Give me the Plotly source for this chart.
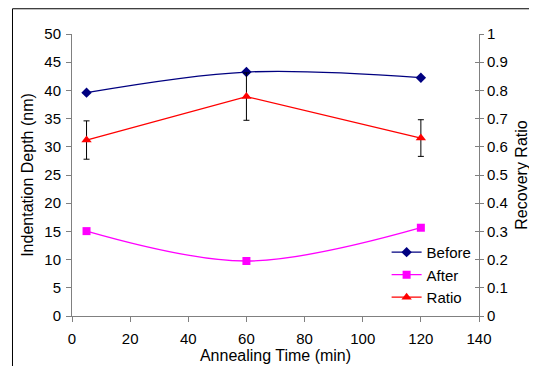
import plotly.graph_objects as go

time_min = [5, 60, 120]
before_nm = [39.6, 43.25, 42.25]
after_nm = [15.05, 9.75, 15.65]
ratio = [0.624, 0.778, 0.631]
ratio_err = [0.068, 0.084, 0.065]

x_ticks = [0, 20, 40, 60, 80, 100, 120, 140]
y_ticks = [0, 5, 10, 15, 20, 25, 30, 35, 40, 45, 50]
y2_ticks = [0, 0.1, 0.2, 0.3, 0.4, 0.5, 0.6, 0.7, 0.8, 0.9, 1]
y2_labels = ["0", "0.1", "0.2", "0.3", "0.4", "0.5", "0.6", "0.7", "0.8", "0.9", "1"]

FONT = "Liberation Sans, Arial, sans-serif"
AX = "#808080"
TICKF = 15
TITLEF = 16

fig = go.Figure()
fig.add_trace(go.Scatter(
    x=time_min, y=before_nm, name="Before", mode="lines+markers",
    line=dict(color="#000080", width=1.3, shape="spline", smoothing=1),
    marker=dict(symbol="diamond", size=8, color="#000080"),
))
fig.add_trace(go.Scatter(
    x=time_min, y=after_nm, name="After", mode="lines+markers",
    line=dict(color="#FF00FF", width=1.3, shape="spline", smoothing=1),
    marker=dict(symbol="square", size=8, color="#FF00FF"),
))
fig.add_trace(go.Scatter(
    x=time_min, y=ratio, name="Ratio", mode="lines+markers", yaxis="y2",
    line=dict(color="#FF0000", width=1.3),
    marker=dict(symbol="triangle-up", size=9, color="#FF0000"),
    error_y=dict(type="data", array=ratio_err, visible=True, color="#000000",
                 thickness=1, width=3),
))
# invisible helper trace for crossing ticks on the right axis
fig.add_trace(go.Scatter(x=[None], y=[None], yaxis="y3", showlegend=False, hoverinfo="skip"))

fig.update_layout(
    width=529, height=358,
    margin=dict(l=64, r=58, t=26, b=50),
    paper_bgcolor="white", plot_bgcolor="white",
    font=dict(family=FONT, size=TICKF, color="#000000"),
    xaxis=dict(
        range=[0, 140], tickvals=x_ticks, showgrid=False, zeroline=False,
        showline=True, linecolor=AX, linewidth=1, automargin=False,
        ticks="outside", ticklen=5, tickcolor=AX, tickfont=dict(size=TICKF),
        ticklabelstandoff=4,
        title=dict(text="Annealing Time (min)", standoff=0, font=dict(size=TITLEF)),
    ),
    yaxis=dict(
        range=[0, 50], tickvals=y_ticks, showgrid=False, zeroline=False,
        showline=True, linecolor=AX, linewidth=1, automargin=False,
        ticks="outside", ticklen=5, tickcolor=AX, tickfont=dict(size=TICKF),
        ticklabelstandoff=2,
        title=dict(text="Indentation Depth (nm)", standoff=6, font=dict(size=TITLEF)),
    ),
    yaxis2=dict(
        range=[0, 1], tickvals=y2_ticks, ticktext=y2_labels, overlaying="y", side="right",
        showgrid=False, zeroline=False, automargin=False,
        showline=True, linecolor=AX, linewidth=1,
        ticks="outside", ticklen=4, tickcolor=AX, tickfont=dict(size=TICKF),
        title=dict(text="Recovery Ratio", standoff=8, font=dict(size=TITLEF)),
    ),
    yaxis3=dict(
        range=[0, 1], tickvals=y2_ticks, overlaying="y", side="right",
        showgrid=False, zeroline=False, showline=False, showticklabels=False,
        automargin=False, ticks="inside", ticklen=4, tickcolor=AX,
    ),
    legend=dict(
        x=0.773, y=0.284, xanchor="left", yanchor="top",
        bgcolor="rgba(0,0,0,0)", borderwidth=0,
        font=dict(size=TICKF), tracegroupgap=0, itemwidth=30,
    ),
    showlegend=True,
    shapes=[dict(type="rect", xref="paper", yref="paper",
                 x0=-0.1462, x1=1.2, y0=-0.3, y1=1.0895,
                 line=dict(color="#000000", width=1), fillcolor="rgba(0,0,0,0)", layer="below")],
)

fig.write_html("out.html")
